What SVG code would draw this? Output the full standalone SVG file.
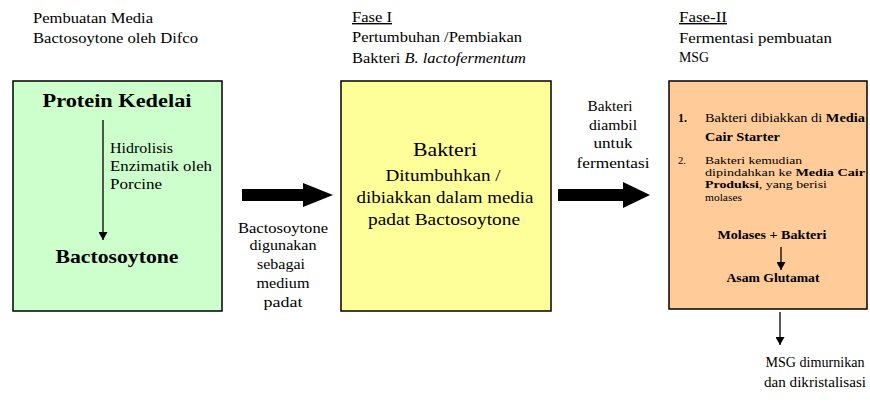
<svg xmlns="http://www.w3.org/2000/svg" width="870" height="402" viewBox="0 0 870 402" font-family="'Liberation Serif', 'DejaVu Serif', serif">
<style>
text{font-family:"Liberation Serif","DejaVu Serif","Times New Roman",serif;fill:#000}
.h{font-size:14px}
.c{text-anchor:middle}
.b{font-weight:bold}
.box{stroke:#000;stroke-width:1.5}
.ln{stroke:#000;stroke-width:1.3;fill:none}
.big{fill:#000}
.s{font-size:12px}
.t{font-size:10.5px}
</style>
<defs>
<marker id="ah" markerWidth="8" markerHeight="9" refX="8" refY="4.5" orient="auto" markerUnits="userSpaceOnUse" viewBox="0 0 8 9">
<path d="M0,0 L8,4.5 L0,9 Z" fill="#000"/>
</marker>
</defs>
<g id="titles">
<text class="h" x="33" y="23" textLength="120" lengthAdjust="spacingAndGlyphs">Pembuatan Media</text>
<text class="h" x="33" y="43" textLength="165" lengthAdjust="spacingAndGlyphs">Bactosoytone oleh Difco</text>
<text class="h" x="352" y="22" text-decoration="underline" textLength="40" lengthAdjust="spacingAndGlyphs">Fase I</text>
<text class="h" x="352" y="42" textLength="170" lengthAdjust="spacingAndGlyphs">Pertumbuhan /Pembiakan</text>
<text class="h" x="352" y="63" textLength="174" lengthAdjust="spacingAndGlyphs">Bakteri <tspan font-style="italic">B. lactofermentum</tspan></text>
<text class="h" x="679" y="22" text-decoration="underline" textLength="48" lengthAdjust="spacingAndGlyphs">Fase-II</text>
<text class="h" x="679" y="43" textLength="153" lengthAdjust="spacingAndGlyphs">Fermentasi pembuatan</text>
<text class="h" x="679" y="62" textLength="30" lengthAdjust="spacingAndGlyphs">MSG</text>
</g>
<g id="node-media">
<rect class="box" x="13" y="81" width="209" height="230" fill="#ccffcc"/>
<text class="c b" x="117" y="107" font-size="19" textLength="149" lengthAdjust="spacingAndGlyphs">Protein Kedelai</text>
<line class="ln" x1="103" y1="120" x2="103" y2="240" marker-end="url(#ah)"/>
<text class="h" x="110" y="153" textLength="63" lengthAdjust="spacingAndGlyphs">Hidrolisis</text>
<text class="h" x="110" y="171" textLength="102" lengthAdjust="spacingAndGlyphs">Enzimatik oleh</text>
<text class="h" x="110" y="189" textLength="52" lengthAdjust="spacingAndGlyphs">Porcine</text>
<text class="c b" x="117" y="263" font-size="19" textLength="123" lengthAdjust="spacingAndGlyphs">Bactosoytone</text>
</g>
<g id="node-fase1">
<rect class="box" x="341" y="81" width="210" height="230" fill="#ffff99"/>
<text class="c" x="445" y="156" font-size="18" textLength="64" lengthAdjust="spacingAndGlyphs">Bakteri</text>
<text class="c" x="443" y="181" font-size="17" textLength="115" lengthAdjust="spacingAndGlyphs">Ditumbuhkan /</text>
<text class="c" x="445" y="203" font-size="17" textLength="177" lengthAdjust="spacingAndGlyphs">dibiakkan dalam media</text>
<text class="c" x="444" y="225" font-size="17" textLength="152" lengthAdjust="spacingAndGlyphs">padat Bactosoytone</text>
</g>
<g id="node-fase2">
<rect class="box" x="669" y="81" width="198" height="228" fill="#ffcc99"/>
<text class="s b" x="678" y="122">1.</text>
<text class="s" x="705" y="122" textLength="160" lengthAdjust="spacingAndGlyphs">Bakteri dibiakkan di <tspan font-weight="bold">Media</tspan></text>
<text class="s b" x="705" y="141" textLength="75" lengthAdjust="spacingAndGlyphs">Cair Starter</text>
<text class="t" x="678" y="164">2.</text>
<text class="t" x="705" y="164" textLength="97" lengthAdjust="spacingAndGlyphs">Bakteri kemudian</text>
<text class="t" x="705" y="176" textLength="160" lengthAdjust="spacingAndGlyphs">dipindahkan ke <tspan font-weight="bold">Media Cair</tspan></text>
<text class="t" x="705" y="188" textLength="122" lengthAdjust="spacingAndGlyphs"><tspan font-weight="bold">Produksi</tspan>, yang berisi</text>
<text class="t" x="705" y="201" textLength="37" lengthAdjust="spacingAndGlyphs">molases</text>
<text class="s b c" x="772" y="239" textLength="109" lengthAdjust="spacingAndGlyphs">Molases + Bakteri</text>
<line class="ln" x1="781" y1="247" x2="781" y2="270" marker-end="url(#ah)"/>
<text class="s b c" x="773" y="282" textLength="93" lengthAdjust="spacingAndGlyphs">Asam Glutamat</text>
</g>
<g id="node-msg">
<text class="c" x="815" y="367" font-size="14.5" textLength="99" lengthAdjust="spacingAndGlyphs">MSG dimurnikan</text>
<text class="c" x="815" y="387" font-size="14.5" textLength="102" lengthAdjust="spacingAndGlyphs">dan dikristalisasi</text>
</g>
<g id="connectors">
<path class="big" d="M242,189 L303,189 L303,183 L333,195 L303,207 L303,201 L242,201 Z"/>
<path class="big" d="M558,189 L623,189 L623,182 L650,195 L623,208 L623,201 L558,201 Z"/>
<line class="ln" x1="780" y1="312" x2="780" y2="345" marker-end="url(#ah)"/>
</g>
<g id="labels">
<text class="h c" x="283" y="233" textLength="90" lengthAdjust="spacingAndGlyphs">Bactosoytone</text>
<text class="h c" x="283" y="250" textLength="67" lengthAdjust="spacingAndGlyphs">digunakan</text>
<text class="h c" x="281" y="269" textLength="48" lengthAdjust="spacingAndGlyphs">sebagai</text>
<text class="h c" x="283" y="288" textLength="53" lengthAdjust="spacingAndGlyphs">medium</text>
<text class="h c" x="283" y="307" textLength="39" lengthAdjust="spacingAndGlyphs">padat</text>
<text class="h c" x="610" y="111" textLength="45" lengthAdjust="spacingAndGlyphs">Bakteri</text>
<text class="h c" x="613" y="130" textLength="48" lengthAdjust="spacingAndGlyphs">diambil</text>
<text class="h c" x="613" y="148" textLength="39" lengthAdjust="spacingAndGlyphs">untuk</text>
<text class="h c" x="613" y="168" textLength="73" lengthAdjust="spacingAndGlyphs">fermentasi</text>
</g>
</svg>
